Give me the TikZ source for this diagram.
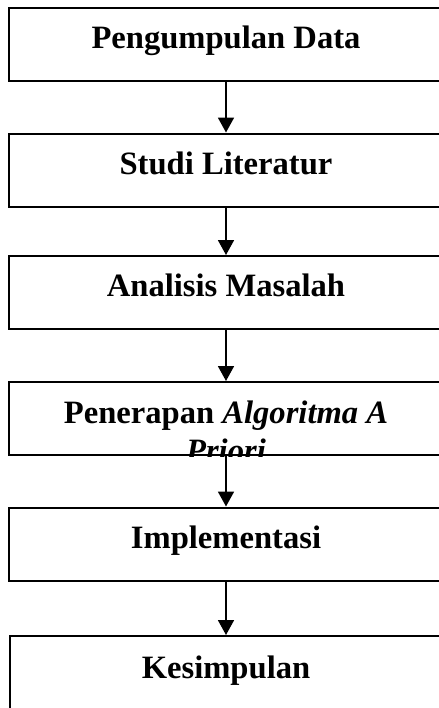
\documentclass[tikz,border=0pt]{standalone}
\usepackage{fontspec}
\setmainfont{Liberation Serif}
\usetikzlibrary{arrows.meta}
\pgfdeclarelayer{edgelayer}
\pgfdeclarelayer{nodelayer}
\pgfsetlayers{edgelayer,nodelayer,main}
\tikzset{font=\fontsize{16.3}{18.75}\selectfont\bfseries}
\tikzstyle{box}=[rectangle,draw,line width=1pt,minimum width=217.5pt,minimum height=36.5pt,inner sep=0pt,text height=0.74em,text depth=0.32em]
\tikzstyle{boxtext}=[inner sep=0pt,align=center,anchor=base]
\tikzstyle{flow}=[line width=0.9pt,-{Triangle[width=8pt,length=7.5pt]}]

\begin{document}
\begin{tikzpicture}[x=0.5pt,y=-0.5pt]
	\useasboundingbox (0, 0) rectangle (439, 708);
	\begin{pgfonlayer}{nodelayer}
		\node [style=box] (0) at (226, 44) {Pengumpulan Data};
		\node [style=box] (1) at (226, 170) {Studi Literatur};
		\node [style=box] (2) at (226, 292.5) {Analisis Masalah};
		\node [style=box] (3) at (226, 418.5) {};
		\begin{scope}
			\clip (3.south west) rectangle (3.north east);
			\node [style=boxtext] (6) at (226, 461) {Penerapan \textit{Algoritma A}\\\textit{Priori}};
		\end{scope}
		\node [style=box] (4) at (226, 544) {Implementasi};
		\node [style=box, minimum width=216pt, minimum height=38pt] (5) at (226, 674) {Kesimpulan};
	\end{pgfonlayer}
	\begin{pgfonlayer}{edgelayer}
		\draw [style=flow] (0) to (1);
		\draw [style=flow] (1) to (2);
		\draw [style=flow] (2) to (3);
		\draw [style=flow] (3) to (4);
		\draw [style=flow] (4) to (5);
	\end{pgfonlayer}
\end{tikzpicture}
\end{document}
